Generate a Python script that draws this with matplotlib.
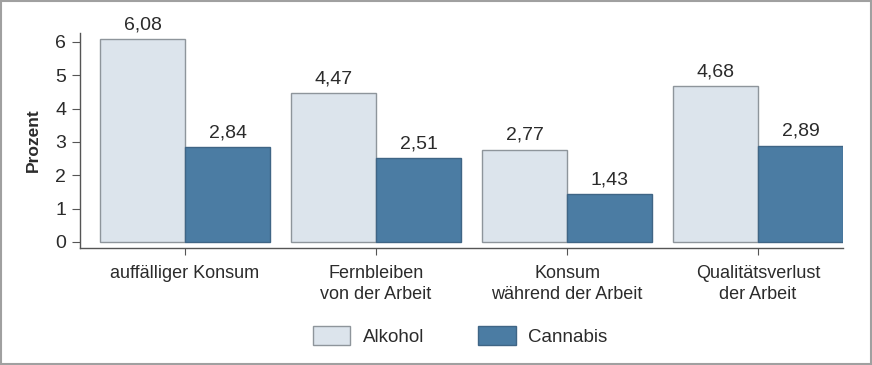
import matplotlib.pyplot as plt
import numpy as np
from matplotlib.patches import Rectangle, Patch

# Daten
kategorien = ["auffälliger Konsum", "Fernbleiben\nvon der Arbeit",
              "Konsum\nwährend der Arbeit", "Qualitätsverlust\nder Arbeit"]
alkohol = [6.08, 4.47, 2.77, 4.68]
cannabis = [2.84, 2.51, 1.43, 2.89]
y_ticks = [0, 1, 2, 3, 4, 5, 6]

FARBE_ALK = "#dce4ec"
FARBE_CAN = "#4b7ca3"
RAND_ALK = "#8e959b"
RAND_CAN = "#3f6585"
TEXT = "#2b2b2b"

plt.rcParams["font.family"] = ["Liberation Sans Narrow", "Liberation Sans", "DejaVu Sans"]

fig = plt.figure(figsize=(8.72, 3.65), dpi=100)
W, H = 872, 365
ax = fig.add_axes([80 / W, (H - 248) / H, (843 - 80) / W, (248 - 33) / H])

x = np.arange(len(kategorien))
breite = 0.445
b1 = ax.bar(x - breite / 2, alkohol, breite, color=FARBE_ALK, edgecolor=RAND_ALK, linewidth=1, label="Alkohol")
b2 = ax.bar(x + breite / 2, cannabis, breite, color=FARBE_CAN, edgecolor=RAND_CAN, linewidth=1, label="Cannabis")

# Werte über den Balken (deutsches Komma)
for balken, werte in ((b1, alkohol), (b2, cannabis)):
    for rect, w in zip(balken, werte):
        ax.text(rect.get_x() + rect.get_width() / 2, w + 0.17, f"{w:.2f}".replace(".", ","),
                ha="center", va="bottom", fontsize=14, color=TEXT)

ax.set_xlim(-0.55, 3.445)
ax.set_ylim(-0.18, 6.27)
ax.set_yticks(y_ticks)
ax.set_xticks(x)
ax.set_xticklabels(kategorien, fontsize=13, color=TEXT, linespacing=1.3)
ax.tick_params(axis="y", labelsize=14, labelcolor=TEXT, length=6, color="#555555", pad=4)
ax.tick_params(axis="x", length=5, color="#555555", pad=7)
for s in ("top", "right"):
    ax.spines[s].set_visible(False)
for s in ("left", "bottom"):
    ax.spines[s].set_color("#555555")
    ax.spines[s].set_linewidth(1)
ax.set_ylabel("Prozent", fontsize=12.5, fontweight="bold", color=TEXT, labelpad=10)

handles = [Patch(facecolor=FARBE_ALK, edgecolor=RAND_ALK, label="Alkohol"),
           Patch(facecolor=FARBE_CAN, edgecolor=RAND_CAN, label="Cannabis")]
fig.legend(handles=handles, loc="center", bbox_to_anchor=(460 / W, (H - 336) / H), ncol=2,
           frameon=False, fontsize=13.5, handlelength=2.0, handleheight=1.2, columnspacing=2.9,
           handletextpad=0.65, labelcolor=TEXT)

# Rahmen um die Grafik
fig.patches.append(Rectangle((0.001, 0.002), 0.998, 0.996, transform=fig.transFigure,
                             fill=False, edgecolor="#a0a0a0", linewidth=1.5))

fig.savefig("out.png", dpi=100)
